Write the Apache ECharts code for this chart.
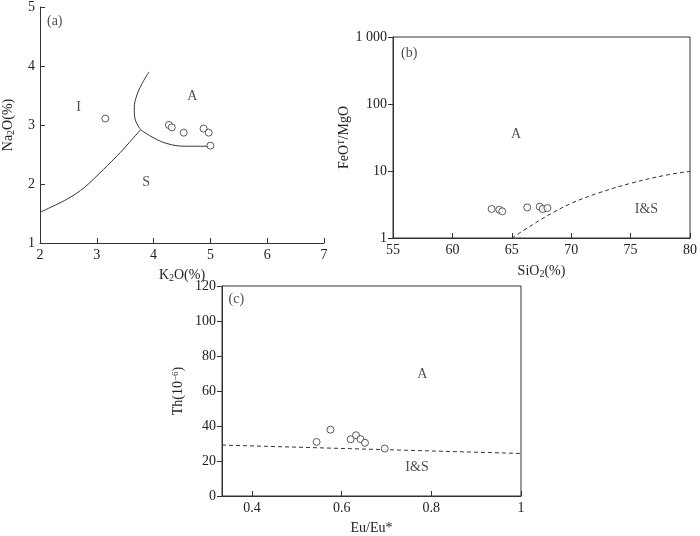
<!DOCTYPE html>
<html>
<head>
<meta charset="utf-8">
<script src="https://cdn.jsdelivr.net/npm/echarts@6/dist/echarts.min.js"></script>
<style>
  html, body { margin: 0; padding: 0; background: #fff; }
  #chart { width: 700px; height: 536px; }
</style>
</head>
<body>
<div id="chart"></div>
<script>
// (a) K2O - Na2O
const aK2O = [3.15, 4.27, 4.32, 4.53, 4.88, 4.97, 5.0]
const aNa2O = [3.11, 3.0, 2.96, 2.87, 2.94, 2.87, 2.65]
const aLineIS = [[2, 1.52], [2.49, 1.75], [2.78, 1.94], [3.12, 2.25], [3.41, 2.53], [3.77, 2.92]]
const aLineAUp = [[3.92, 3.9], [3.79, 3.69], [3.7, 3.49], [3.66, 3.29], [3.67, 3.12], [3.77, 2.92]]
const aLineALow = [[3.77, 2.92], [3.93, 2.82], [4.22, 2.69], [4.57, 2.64], [4.97, 2.64]]
const aTexts = [['(a)', 2.26, 4.75], ['I', 2.68, 3.3], ['A', 4.68, 3.48], ['S', 3.87, 2.03]]

// (b) SiO2 - FeOT/MgO
const bSiO2 = [63.3, 63.95, 64.2, 66.3, 67.35, 67.6, 68.0]
const bFeOMgO = [2.71, 2.64, 2.5, 2.86, 2.93, 2.71, 2.8]
const bLine = [[65, 1], [66.75, 1.58], [68.4, 2.36], [70.07, 3.33], [72.3, 4.7], [75.08, 6.6], [77.87, 8.6], [80, 9.9]]
const bTexts = [['(b)', 56.36, 577], ['A', 65.36, 34.8], ['I&S', 76.33, 2.71]]

// (c) Eu/Eu* - Th
const cEu = [0.544, 0.575, 0.62, 0.632, 0.642, 0.652, 0.696]
const cTh = [30.9, 37.9, 32.4, 34.7, 32.5, 30.4, 27.1]
const cLine = [[0.333, 29.1], [1, 24.3]]
const cTexts = [['(c)', 0.365, 112.3], ['A', 0.78, 69.5], ['I&S', 0.768, 16.5]]
const cTicks = [0.4, 0.6, 0.8, 1]

const font = 'Liberation Serif'
const ink = '#333'
const sub = { sub: { fontFamily: font, fontSize: 10, verticalAlign: 'bottom', padding: [6, 0, 0, 0], color: '#222' } }
const sup = { sup: { fontFamily: font, fontSize: 9, verticalAlign: 'top', padding: [0, 0, 6, 0], color: '#222' } }

function axisBase(extra) {
  return Object.assign({
    nameLocation: 'middle',
    nameTextStyle: { fontFamily: font, fontSize: 14, color: '#222', rich: Object.assign({}, sub, sup) },
    axisLine: { onZero: false, lineStyle: { color: ink, width: 1 } },
    splitLine: { show: false },
  }, extra)
}

function pts(xs, ys) {
  return xs.map((x, i) => [x, ys[i]])
}

function scatter(idx, data) {
  return {
    type: 'scatter', xAxisIndex: idx, yAxisIndex: idx, data: data,
    symbol: 'circle', symbolSize: 7,
    itemStyle: { color: '#fff', borderColor: ink, borderWidth: 1 },
    z: 5
  }
}

function line(idx, data, dashed, smooth) {
  return {
    type: 'line', xAxisIndex: idx, yAxisIndex: idx, data: data,
    symbol: 'none', smooth: smooth, silent: true,
    lineStyle: { color: ink, width: 1, type: dashed ? [4, 3] : 'solid' }
  }
}

function texts(idx, list) {
  return {
    type: 'scatter', xAxisIndex: idx, yAxisIndex: idx,
    data: list.map(t => ({ value: [t[1], t[2]], name: t[0] })),
    symbolSize: 0, silent: true,
    label: {
      show: true, position: 'inside', formatter: p => p.name,
      fontFamily: font, fontSize: 14, color: '#222'
    }
  }
}

let option = {
  animation: false,
  grid: [
    { left: 35, top: 5, width: 289, height: 238 },
    { left: 393, top: 37, width: 299, height: 201, show: true, borderColor: ink, borderWidth: 1 },
    { left: 222, top: 286, width: 299, height: 218, show: true, borderColor: ink, borderWidth: 1 },
  ],
  xAxis: [
    axisBase({
      gridIndex: 0, type: 'value', min: 2, max: 7, interval: 1,
      name: 'K{sub|2}O(%)', nameGap: 24,
      axisTick: { inside: true, length: 5, lineStyle: { color: ink } },
      axisLabel: { fontFamily: font, fontSize: 14, color: '#222', margin: 5 }
    }),
    axisBase({
      gridIndex: 1, type: 'value', min: 55, max: 80, interval: 5,
      name: 'SiO{sub|2}(%)', nameGap: 25,
      axisTick: { inside: true, length: 5, lineStyle: { color: ink } },
      axisLabel: { fontFamily: font, fontSize: 14, color: '#222', margin: 5 }
    }),
    axisBase({
      gridIndex: 2, type: 'value', min: 0.333, max: 1,
      name: 'Eu/Eu*', nameGap: 25,
      axisTick: { inside: true, length: 5, customValues: cTicks, lineStyle: { color: ink } },
      axisLabel: { fontFamily: font, fontSize: 14, color: '#222', margin: 5, customValues: cTicks, formatter: v => String(v) }
    }),
  ],
  yAxis: [
    axisBase({
      gridIndex: 0, type: 'value', min: 1, max: 5, interval: 1,
      name: 'Na{sub|2}O(%)', nameGap: 24,
      axisTick: { inside: true, length: 5, lineStyle: { color: ink } },
      axisLabel: { fontFamily: font, fontSize: 14, color: '#222', margin: 5 }
    }),
    axisBase({
      gridIndex: 1, type: 'log', logBase: 10, min: 1, max: 1000,
      name: 'FeO{sup|T}/MgO', nameGap: 33,
      axisTick: { inside: false, length: 5, lineStyle: { color: ink } },
      minorTick: { show: false },
      axisLabel: {
        fontFamily: font, fontSize: 14, color: '#222', margin: 6,
        formatter: v => v === 1000 ? '1 000' : String(v)
      }
    }),
    axisBase({
      gridIndex: 2, type: 'value', min: 0, max: 120, interval: 20,
      name: 'Th(10{sup|−6})', nameGap: 36,
      axisTick: { inside: false, length: 5, lineStyle: { color: ink } },
      axisLabel: { fontFamily: font, fontSize: 14, color: '#222', margin: 6 }
    }),
  ],
  series: [
    line(0, aLineIS, false, 0.3),
    line(0, aLineAUp, false, 0.4),
    line(0, aLineALow, false, 0.4),
    scatter(0, pts(aK2O, aNa2O)),
    texts(0, aTexts),
    line(1, bLine, true, 0.4),
    scatter(1, pts(bSiO2, bFeOMgO)),
    texts(1, bTexts),
    line(2, cLine, true, false),
    scatter(2, pts(cEu, cTh)),
    texts(2, cTexts),
  ]
}

let chartsInstance = echarts.init(document.getElementById('chart'), null, { renderer: 'canvas' })
chartsInstance.setOption(option)
</script>
</body>
</html>
